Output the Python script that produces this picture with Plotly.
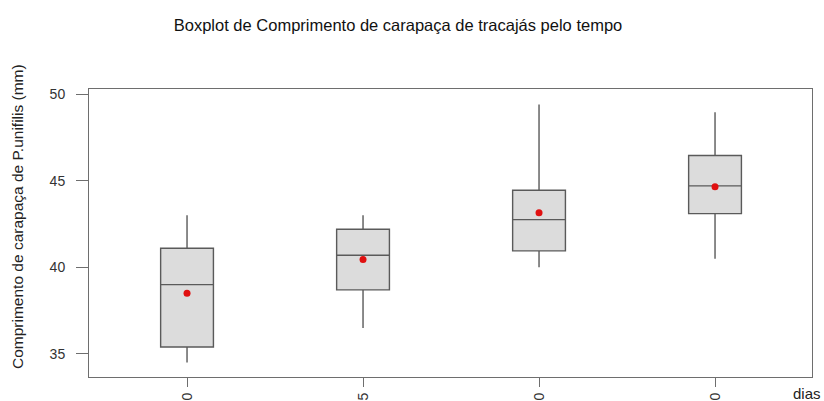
import plotly.graph_objects as go

# Days of sampling and the five-number summaries of carapace length (mm)
dias = ["0", "5", "10", "20"]
minimo = [34.5, 36.5, 40.0, 40.5]
q1 = [35.4, 38.7, 40.95, 43.1]
mediana = [39.0, 40.7, 42.75, 44.7]
q3 = [41.1, 42.2, 44.45, 46.45]
maximo = [43.0, 43.0, 49.4, 48.95]
media = [38.5, 40.45, 43.15, 44.65]

FONT = "Liberation Sans, Arial, sans-serif"
GRID = "#6e6e6e"

fig = go.Figure()

fig.add_trace(go.Box(
    x=dias,
    q1=q1,
    median=mediana,
    q3=q3,
    lowerfence=minimo,
    upperfence=maximo,
    width=0.3,
    whiskerwidth=0,
    fillcolor="#dcdcdc",
    line=dict(color="#5a5a5a", width=1.4),
    boxpoints=False,
    hoverinfo="y",
    showlegend=False,
))

# Means as red dots on top of each box
fig.add_trace(go.Scatter(
    x=dias,
    y=media,
    mode="markers",
    marker=dict(color="#e01010", size=7),
    showlegend=False,
))

fig.update_layout(
    width=824,
    height=401,
    margin=dict(l=89, r=12, t=89, b=24),
    paper_bgcolor="white",
    plot_bgcolor="white",
    font=dict(family=FONT, color="#222"),
    title=dict(
        text="Boxplot de Comprimento de carapaça de tracajás pelo tempo",
        x=398 / 824,
        xanchor="center",
        y=1 - 25 / 401,
        yanchor="middle",
        font=dict(size=16.5, color="#111"),
    ),
    xaxis=dict(
        type="category",
        categoryorder="array",
        categoryarray=dias,
        range=[-0.557, 3.551],
        showgrid=False,
        zeroline=False,
        showline=True,
        mirror=True,
        linecolor=GRID,
        linewidth=1,
        ticks="outside",
        ticklen=9,
        tickcolor=GRID,
        tickangle=-90,
        tickfont=dict(size=14, color="#333"),
        automargin=False,
    ),
    yaxis=dict(
        range=[33.67, 50.29],
        tickvals=[35, 40, 45, 50],
        showgrid=False,
        zeroline=False,
        showline=True,
        mirror=True,
        linecolor=GRID,
        linewidth=1,
        ticks="outside",
        ticklen=12,
        tickcolor=GRID,
        ticklabelstandoff=8,
        tickfont=dict(size=14, color="#333"),
        automargin=False,
    ),
    annotations=[
        dict(
            text="Comprimento de carapaça de P.unifilis (mm)",
            xref="paper", yref="paper",
            x=(17 - 89) / 723, y=(376 - 216) / 288,
            xanchor="center", yanchor="middle",
            textangle=-90,
            showarrow=False,
            font=dict(size=15.5, color="#222"),
        ),
        dict(
            text="dias",
            xref="paper", yref="paper",
            x=(823 - 89) / 723, y=(376 - 392) / 288,
            xanchor="right", yanchor="middle",
            showarrow=False,
            font=dict(size=15, color="#222"),
        ),
    ],
)

fig.write_html("out.html")
